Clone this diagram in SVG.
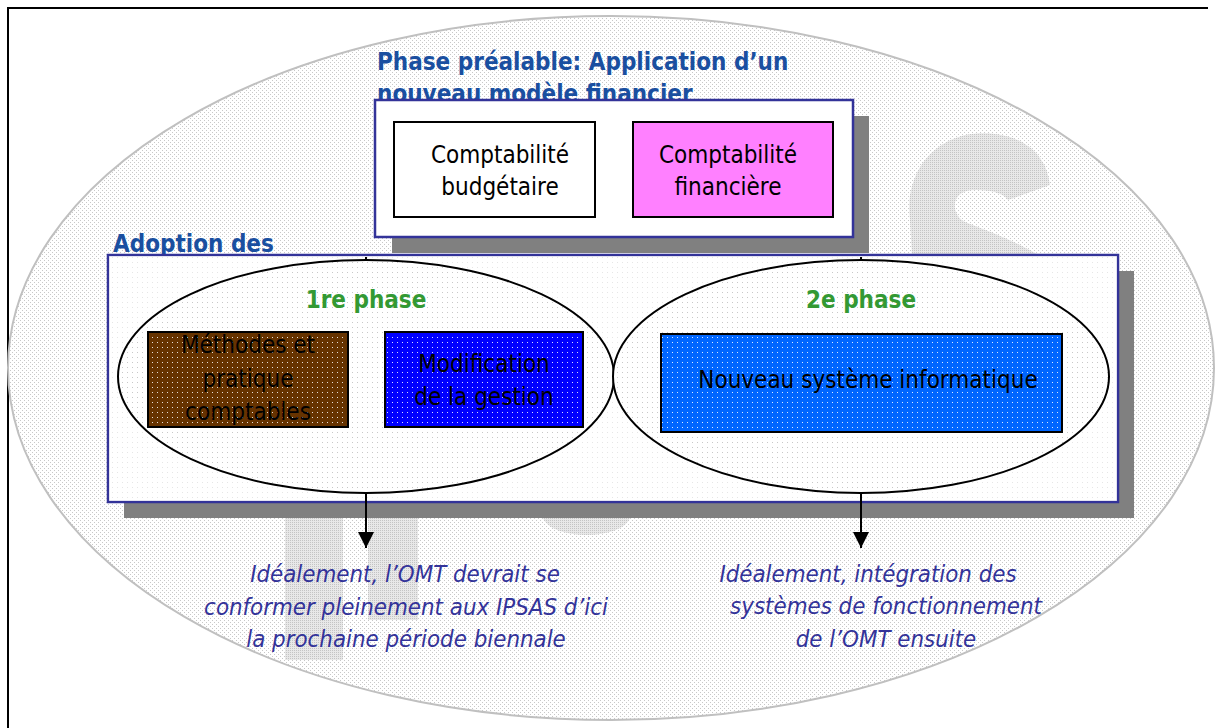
<svg xmlns="http://www.w3.org/2000/svg" width="1216" height="728" viewBox="0 0 1216 728">
  <style>
    text { font-family: "DejaVu Sans Condensed", "DejaVu Sans", "Liberation Sans", sans-serif; font-stretch: condensed; }
    .head { font-weight: bold; font-size: 24px; fill: #1a4fa0; }
    .phase { font-weight: bold; font-size: 24px; fill: #339933; text-anchor: middle; }
    .lbl { font-size: 24px; fill: #000; text-anchor: middle; }
    .note { font-style: italic; font-size: 23.8px; fill: #333399; text-anchor: middle; }
    .frame { fill: #fff; stroke: #333399; stroke-width: 2.5; }
    .shadow { fill: #808080; }
    .cell { stroke: #000; stroke-width: 2; }
    .oval { fill: url(#gridDots); stroke: #000; stroke-width: 2; }
    .wire { stroke: #000; stroke-width: 2; fill: none; marker-end: url(#arrow); }
    .mark { fill: url(#markDots); }
  </style>
  <defs>
    <pattern id="bgDots" width="4" height="4" patternUnits="userSpaceOnUse">
      <rect width="4" height="4" fill="#fff"/>
      <rect x="0" y="0" width="1" height="1" fill="#c8c8c8"/>
      <rect x="2" y="2" width="1" height="1" fill="#c8c8c8"/>
    </pattern>
    <pattern id="markDots" width="2" height="2" patternUnits="userSpaceOnUse">
      <rect width="2" height="2" fill="#e8e8e8"/>
      <rect x="0" y="0" width="1" height="1" fill="#c4c4c4"/>
    </pattern>
    <pattern id="gridDots" width="5" height="5" patternUnits="userSpaceOnUse">
      <rect width="5" height="5" fill="#fff"/>
      <rect x="2" y="2" width="1" height="1" fill="#c8c8c8"/>
    </pattern>
    <pattern id="whiteDots" width="5" height="5" patternUnits="userSpaceOnUse">
      <rect x="2" y="2" width="1" height="1" fill="#fff" opacity="0.85"/>
    </pattern>
    <marker id="arrow" viewBox="0 0 16 16" refX="8" refY="16" markerWidth="16" markerHeight="16" markerUnits="userSpaceOnUse">
      <path d="M0,0 L16,0 L8,16 Z" fill="#000"/>
    </marker>
  </defs>

  <!-- page frame -->
  <path d="M8,728 V8 H1208" fill="none" stroke="#000" stroke-width="2"/>

  <!-- background oval with faint logo marks -->
  <g id="background">
    <ellipse cx="611" cy="368" rx="603" ry="352" fill="url(#bgDots)" stroke="#c0c0c0" stroke-width="2"/>
    <path class="mark" d="M1008,200 L1050,185 C1045,140 1000,128 965,135 C925,145 905,180 910,220 L912,256 L1040,256 C1010,238 985,230 965,222 C950,214 950,190 975,190 C995,190 1005,195 1008,200 Z"/>
    <rect class="mark" x="285" y="518" width="58" height="142"/>
    <rect class="mark" x="368" y="518" width="50" height="102"/>
    <path class="mark" d="M543,518 A44,20 0 0 0 630,518 Z"/>
  </g>

  <!-- preliminary phase -->
  <g id="phase-prealable">
    <text class="head" x="377" y="70">Phase préalable: Application d’un</text>
    <text class="head" x="377" y="102">nouveau modèle financier</text>
    <rect class="shadow" x="392" y="116" width="477" height="137"/>
    <rect class="frame" x="375" y="100" width="478" height="137"/>
  </g>
  <g id="compta-budgetaire">
    <rect class="cell" x="394" y="122" width="201" height="95" fill="#fff"/>
    <text class="lbl" x="500" y="163">Comptabilité</text>
    <text class="lbl" x="500" y="195">budgétaire</text>
  </g>
  <g id="compta-financiere">
    <rect class="cell" x="633" y="122" width="200" height="95" fill="#ff80ff"/>
    <text class="lbl" x="728" y="163">Comptabilité</text>
    <text class="lbl" x="728" y="195">financière</text>
  </g>

  <!-- adoption -->
  <g id="adoption">
    <text class="head" x="113" y="252">Adoption des</text>
    <rect class="shadow" x="124" y="271" width="1010" height="247"/>
    <rect class="frame" x="108" y="255" width="1010" height="247"/>
    <rect x="109" y="256" width="1008" height="245" fill="url(#gridDots)" opacity="0.45"/>
  </g>

  <g id="connectors">
    <line class="wire" x1="366" y1="257" x2="366" y2="548"/>
    <line class="wire" x1="861" y1="257" x2="861" y2="548"/>
  </g>

  <g id="phase-1">
    <ellipse class="oval" cx="366" cy="376.5" rx="248" ry="116.5"/>
    <text class="phase" x="366" y="308">1re phase</text>
  </g>
  <g id="methodes">
    <rect class="cell" x="148" y="332" width="200" height="95" fill="#663300"/>
    <rect x="149" y="333" width="198" height="93" fill="url(#whiteDots)"/>
    <text class="lbl" x="248" y="353">Méthodes et</text>
    <text class="lbl" x="248" y="387">pratique</text>
    <text class="lbl" x="248" y="420">comptables</text>
  </g>
  <g id="modification">
    <rect class="cell" x="385" y="332" width="198" height="95" fill="#0000ff"/>
    <rect x="386" y="333" width="196" height="93" fill="url(#whiteDots)"/>
    <text class="lbl" x="484" y="372">Modification</text>
    <text class="lbl" x="484" y="405">de la gestion</text>
  </g>

  <g id="phase-2">
    <ellipse class="oval" cx="861" cy="376.5" rx="248" ry="116.5"/>
    <text class="phase" x="861" y="308">2e phase</text>
  </g>
  <g id="systeme">
    <rect class="cell" x="661" y="334" width="401" height="98" fill="#0066ff"/>
    <rect x="662" y="335" width="399" height="96" fill="url(#whiteDots)"/>
    <text class="lbl" x="868" y="388">Nouveau système informatique</text>
  </g>

  <g id="note-ipsas">
    <text class="note" x="405" y="582">Idéalement, l’OMT devrait se</text>
    <text class="note" x="406" y="615">conformer pleinement aux IPSAS d’ici</text>
    <text class="note" x="406" y="647">la prochaine période biennale</text>
  </g>
  <g id="note-integration">
    <text class="note" x="868" y="582">Idéalement, intégration des</text>
    <text class="note" x="886" y="614">systèmes de fonctionnement</text>
    <text class="note" x="886" y="647">de l’OMT ensuite</text>
  </g>
</svg>
